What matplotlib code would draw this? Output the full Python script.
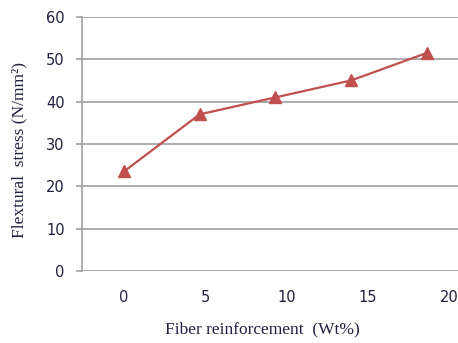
import matplotlib
matplotlib.use("Agg")
import matplotlib.pyplot as plt

# fiber content (wt%) and measured flexural stress (N/mm2)
fiber_wt = [0, 4.65, 9.3, 13.95, 18.6]
flex_stress = [23.5, 37.0, 41.0, 45.0, 51.5]
x_ticks = [0, 5, 10, 15, 20]
y_ticks = [0, 10, 20, 30, 40, 50, 60]

fig = plt.figure(figsize=(4.58, 3.43), dpi=100)
ax = fig.add_axes([0.179, 0.21, 0.838, 0.7405])

ax.plot(fiber_wt, flex_stress, color="#C0504D", linewidth=1.6,
        marker="^", markersize=8.5, clip_on=False, zorder=3)

ax.set_xlim(-2.58, 21)
ax.set_ylim(0, 60)
ax.set_xticks(x_ticks)
ax.set_yticks(y_ticks)

grid_col = "#A6A6A6"
ax.grid(axis="y", color=grid_col, linewidth=1.3)
ax.set_axisbelow(True)
for side in ["top", "right", "bottom"]:
    ax.spines[side].set_visible(False)
ax.spines["left"].set_color(grid_col)
ax.spines["left"].set_linewidth(1.3)

ax.tick_params(axis="y", length=4.5, width=1.3, color=grid_col, pad=8,
               labelcolor="#202040")
ax.tick_params(axis="x", length=0, pad=14, labelcolor="#202040")
for lbl in ax.get_xticklabels() + ax.get_yticklabels():
    lbl.set_fontfamily("DejaVu Sans")
    lbl.set_fontsize(10.5)

ax.set_ylabel("Flextural  stress (N/mm²)", family="Liberation Serif",
              fontsize=12.5, color="#202040")
ax.set_xlabel("Fiber reinforcement  (Wt%)", family="Liberation Serif",
              fontsize=12.5, color="#202040")
ax.yaxis.set_label_coords(-0.143, 0.476)
ax.xaxis.set_label_coords(0.471, -0.2)

fig.savefig("out.png", dpi=100)
